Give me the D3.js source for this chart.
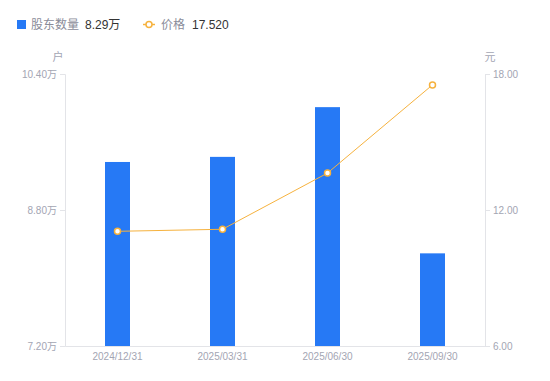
<!DOCTYPE html>
<html><head><meta charset="utf-8">
<script src="https://cdn.jsdelivr.net/npm/d3@7/dist/d3.min.js"></script>
<style>body{margin:0;background:#fff;}svg{display:block;font-family:"Noto Sans CJK SC","Noto Sans",sans-serif;}</style>
</head><body><svg id="c" width="550" height="381"></svg>
<script>
const categories = ["2024/12/31","2025/03/31","2025/06/30","2025/09/30"];
const holders = [9.365, 9.425, 10.01, 8.29];   // 万户
const prices = [11.06, 11.15, 13.63, 17.52];   // 元
const leftTicks = [7.20, 8.80, 10.40];
const rightTicks = [6.00, 12.00, 18.00];
const legendHolders = "8.29万";
const legendPrice = "17.520";

const svg = d3.select("#c");
const L = 65, R = 485, T = 74, B = 346;
const axisColor = "#e3e4e8", textColor = "#a3a5b3";
const blue = "#2679f5", orange = "#f6b23e";

const x = d3.scaleBand().domain(categories).range([L, R]);
const yL = d3.scaleLinear().domain([7.2, 10.4]).range([B, T]);
const yR = d3.scaleLinear().domain([6, 18]).range([B, T]);

// axes
const gl = svg.append("g").attr("transform", `translate(${L},0)`)
  .call(d3.axisLeft(yL).tickValues(leftTicks).tickSize(5).tickPadding(3).tickFormat(d => d.toFixed(2) + "万"));
const gr = svg.append("g").attr("transform", `translate(${R},0)`)
  .call(d3.axisRight(yR).tickValues(rightTicks).tickSize(5).tickPadding(3).tickFormat(d => d.toFixed(2)));
const gb = svg.append("g").attr("transform", `translate(0,${B})`)
  .call(d3.axisBottom(x).tickSize(0).tickPadding(7));
[gl, gr, gb].forEach(g => {
  g.selectAll("path,line").attr("stroke", axisColor);
  g.selectAll("text").attr("fill", textColor).style("font-size", "10px")
   .style("font-family", "'Liberation Sans','Noto Sans CJK SC',sans-serif");
});
gl.selectAll("text").attr("dy", "0.35em");
gr.selectAll("text").attr("dy", "0.35em");

// unit labels
svg.append("text").attr("x", 58).attr("y", 61).attr("text-anchor", "middle")
  .attr("fill", textColor).style("font-size", "11px").text("户");
svg.append("text").attr("x", 490).attr("y", 61).attr("text-anchor", "middle")
  .attr("fill", textColor).style("font-size", "11px").text("元");

// bars
const bw = 25;
svg.append("g").selectAll("rect").data(holders).join("rect")
  .attr("x", (d, i) => x(categories[i]) + x.bandwidth() / 2 - bw / 2)
  .attr("width", bw)
  .attr("y", d => yL(d))
  .attr("height", d => B - yL(d))
  .attr("fill", blue);

// line
const line = d3.line().x((d, i) => x(categories[i]) + x.bandwidth() / 2).y(d => yR(d));
svg.append("path").datum(prices).attr("d", line).attr("fill", "none")
  .attr("stroke", orange).attr("stroke-width", 1);
svg.append("g").selectAll("circle").data(prices).join("circle")
  .attr("cx", (d, i) => x(categories[i]) + x.bandwidth() / 2)
  .attr("cy", d => yR(d)).attr("r", 3)
  .attr("fill", "#fff").attr("stroke", orange).attr("stroke-width", 1.5);

// legend
svg.append("rect").attr("x", 17).attr("y", 20).attr("width", 9).attr("height", 9).attr("fill", blue);
svg.append("text").attr("x", 31).attr("y", 29).attr("fill", "#8a8c99").style("font-size", "12px").text("股东数量");
svg.append("text").attr("x", 85).attr("y", 29).attr("fill", "#333").style("font-size", "12px")
  .style("font-family", "'Liberation Sans','Noto Sans CJK SC',sans-serif").text(legendHolders);
svg.append("line").attr("x1", 143).attr("x2", 155).attr("y1", 24.5).attr("y2", 24.5).attr("stroke", orange).attr("stroke-width", 1.5);
svg.append("circle").attr("cx", 149).attr("cy", 24.5).attr("r", 3).attr("fill", "#fff").attr("stroke", orange).attr("stroke-width", 1.5);
svg.append("text").attr("x", 161).attr("y", 29).attr("fill", "#8a8c99").style("font-size", "12px").text("价格");
svg.append("text").attr("x", 192).attr("y", 29).attr("fill", "#333").style("font-size", "12px")
  .style("font-family", "'Liberation Sans','Noto Sans CJK SC',sans-serif").text(legendPrice);
</script></body></html>
